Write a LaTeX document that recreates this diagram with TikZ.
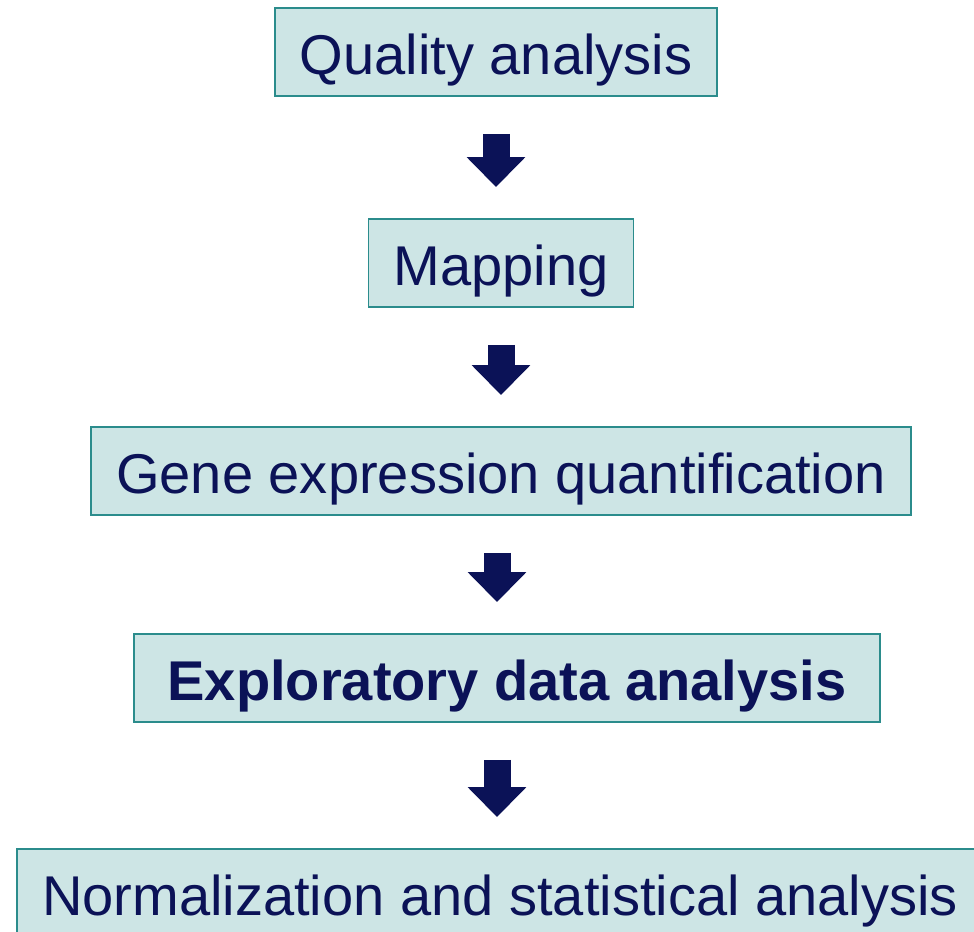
\documentclass[tikz,border=0pt]{standalone}
\usepackage{fontspec}
\setmainfont{Liberation Sans}
\usepackage{xcolor}
\usetikzlibrary{arrows.meta,positioning,calc}
\definecolor{boxfill}{HTML}{CDE5E5}
\definecolor{boxline}{HTML}{2B8C8C}
\definecolor{navy}{HTML}{0B1257}
\tikzset{
  stepbox/.style={draw=boxline,fill=boxfill,line width=1.1pt,
                  minimum height=1.76cm,inner xsep=0.5cm,inner ysep=0pt,
                  text height=0.9cm,text depth=0cm,
                  text=navy,font=\fontsize{31.9}{38}\selectfont},
  blockarr/.style={-{Triangle[length=0.6cm,width=1.14cm]},line width=0.54cm,
                   color=navy,shorten <=0.74cm,shorten >=0.62cm}
}
\begin{document}
\begin{tikzpicture}[x=0.02cm,y=-0.02cm]
  \useasboundingbox (0,0) rectangle (974,932);
  \node[stepbox] (quality) at (496,52) {Quality analysis};
  \node[stepbox] (mapping) at (501,263) {Mapping};
  \node[stepbox] (gene) at (501,471) {Gene expression quantification};
  \node[stepbox,minimum width=14.92cm,font=\fontsize{31.9}{38}\selectfont\bfseries] (explore) at (507,678) {Exploratory data analysis};
  \node[stepbox] (norm) at (500,893) {Normalization and statistical analysis};
  \draw[blockarr] (quality.south) -- (quality.south |- mapping.north);
  \draw[blockarr] (mapping.south) -- (mapping.south |- gene.north);
  \draw[blockarr] ([xshift=-0.08cm]gene.south) -- ([xshift=-0.08cm]gene.south |- explore.north);
  \draw[blockarr] ([xshift=-0.2cm]explore.south) -- ([xshift=-0.2cm]explore.south |- norm.north);
\end{tikzpicture}
\end{document}
